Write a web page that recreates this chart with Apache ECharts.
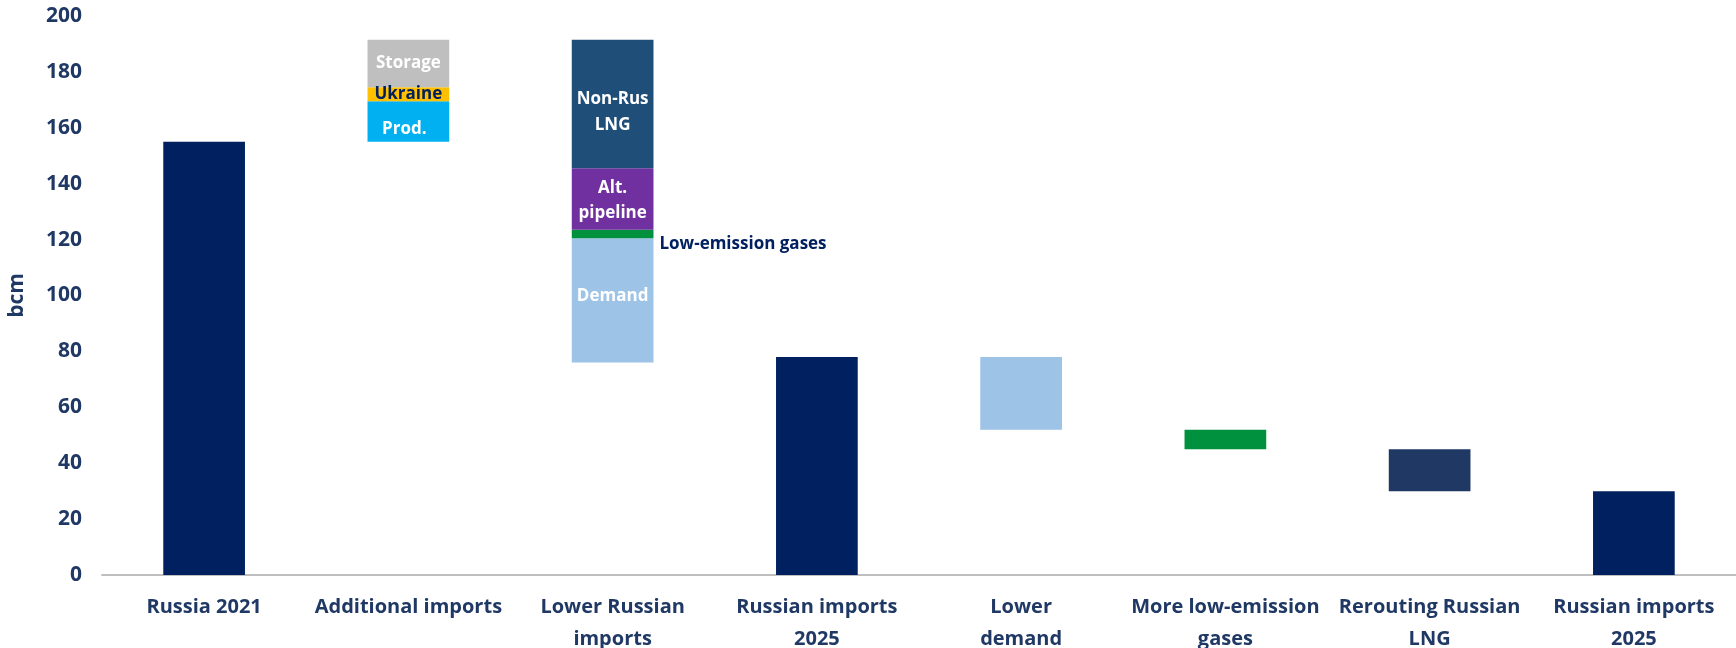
<!DOCTYPE html>
<html>
<head>
<meta charset="utf-8">
<script src="https://cdn.jsdelivr.net/npm/echarts@6/dist/echarts.min.js"></script>
<style>html,body{margin:0;padding:0;background:#fff}#c{width:1736px;height:648px}</style>
</head>
<body>
<div id="c"></div>
<script>
const categories = ['Russia 2021', 'Additional imports', 'Lower Russian\nimports', 'Russian imports\n2025', 'Lower\ndemand', 'More low-emission\ngases', 'Rerouting Russian\nLNG', 'Russian imports\n2025'];
const yTicks = [0, 20, 40, 60, 80, 100, 120, 140, 160, 180, 200];
// invisible base of each floating bar (bcm)
const baseValues = [0, 155, 76, 0, 52, 45, 30, 0];
const totalValues = [155, '-', '-', 78, '-', '-', '-', 30];
const prodValues = ['-', 14.5, '-', '-', '-', '-', '-', '-'];
const ukraineValues = ['-', 5, '-', '-', '-', '-', '-', '-'];
const storageValues = ['-', 17, '-', '-', '-', '-', '-', '-'];
const demandValues = ['-', '-', 44.5, '-', '-', '-', '-', '-'];
const lowEmissionValues = ['-', '-', 3, '-', '-', '-', '-', '-'];
const altPipelineValues = ['-', '-', 22, '-', '-', '-', '-', '-'];
const nonRusLngValues = ['-', '-', 46, '-', '-', '-', '-', '-'];
const lowerDemandValues = ['-', '-', '-', '-', 26, '-', '-', '-'];
const moreLowEmissionValues = ['-', '-', '-', '-', '-', 7, '-', '-'];
const reroutingValues = ['-', '-', '-', '-', '-', '-', 15, '-'];

const navy = '#1F3864';
const font = "'Open Sans', 'Noto Sans', sans-serif";

function seg(name, data, color, label) {
  return {
    name: name, type: 'bar', stack: 'w', data: data, barWidth: '40%',
    itemStyle: { color: color },
    label: label ? Object.assign({ show: true, fontFamily: font, fontWeight: 'bold', fontSize: 17, color: '#fff' }, label) : { show: false },
    emphasis: { disabled: true }
  };
}

const chart = echarts.init(document.getElementById('c'));
chart.setOption({
  animation: false,
  grid: { left: 102, right: 0, top: 16, bottom: 73, containLabel: false, outerBoundsMode: 'none' },
  xAxis: {
    type: 'category', data: categories,
    axisLine: { lineStyle: { color: '#BFBFBF', width: 2 } },
    axisTick: { show: false },
    axisLabel: { interval: 0, margin: 16, lineHeight: 32, color: navy, fontWeight: 'bold', fontSize: 20, fontFamily: font }
  },
  yAxis: {
    type: 'value', min: yTicks[0], max: yTicks[yTicks.length - 1], interval: 20,
    name: 'bcm', nameLocation: 'middle', nameRotate: 90, nameGap: 74,
    nameTextStyle: { color: navy, fontWeight: 'bold', fontSize: 21, fontFamily: font },
    axisLine: { show: false }, axisTick: { show: false }, splitLine: { show: false },
    axisLabel: { margin: 20, color: navy, fontWeight: 'bold', fontSize: 21, fontFamily: font }
  },
  series: [
    { name: 'base', type: 'bar', stack: 'w', data: baseValues, barWidth: '40%',
      itemStyle: { color: 'rgba(0,0,0,0)' }, emphasis: { disabled: true }, silent: true },
    seg('Russia', totalValues, '#002060'),
    seg('Prod.', prodValues, '#00B0F0', { position: 'inside', formatter: 'Prod.', offset: [-4, 8] }),
    seg('Ukraine', ukraineValues, '#FFC000', { position: 'inside', formatter: 'Ukraine', color: '#002060' }),
    seg('Storage', storageValues, '#BFBFBF', { position: 'inside', formatter: 'Storage' }),
    seg('Demand', demandValues, '#9DC3E6', { position: 'inside', formatter: 'Demand', offset: [0, -4] }),
    seg('Low-emission gases', lowEmissionValues, '#00913F', { position: 'right', distance: 6, offset: [0, 10], formatter: 'Low-emission gases', color: '#002060', fontSize: 17 }),
    seg('Alt. pipeline', altPipelineValues, '#7030A0', { position: 'inside', formatter: 'Alt.\npipeline', lineHeight: 25, offset: [0, 2] }),
    seg('Non-Rus LNG', nonRusLngValues, '#1F4E79', { position: 'inside', formatter: 'Non-Rus\nLNG', lineHeight: 26, offset: [0, 8] }),
    seg('Lower demand', lowerDemandValues, '#9DC3E6'),
    seg('More low-emission gases', moreLowEmissionValues, '#00913F'),
    seg('Rerouting Russian LNG', reroutingValues, '#203864')
  ]
});
</script>
</body>
</html>
